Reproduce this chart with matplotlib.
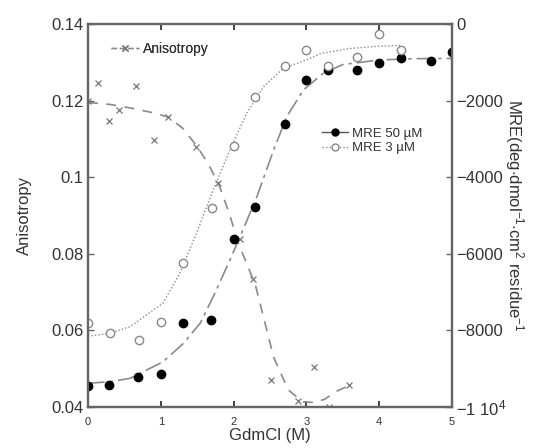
import matplotlib
matplotlib.use("Agg")
from matplotlib import pyplot as plt
from matplotlib.lines import Line2D

plt.rcParams["font.family"] = ["Liberation Sans", "DejaVu Sans"]
plt.rcParams["mathtext.fontset"] = "custom"
plt.rcParams["mathtext.rm"] = "Liberation Sans"
plt.rcParams["mathtext.it"] = "Liberation Sans:italic"
plt.rcParams["mathtext.default"] = "rm"

# Anisotropy data (left axis)
aniso_x = [0, 0.14, 0.29, 0.42, 0.66, 0.90, 1.10, 1.48, 1.79, 2.09, 2.27, 2.51, 2.88, 3.11, 3.31, 3.59]
aniso_y = [0.120, 0.1246, 0.1147, 0.1175, 0.1238, 0.1097, 0.1158, 0.108, 0.0984, 0.0839, 0.0734,
           0.047, 0.0416, 0.0505, 0.040, 0.0457]
aniso_fit_x = [0, 0.3, 0.6, 0.9, 1.1, 1.3, 1.5, 1.65, 1.8, 1.95, 2.05, 2.3, 2.55, 2.75, 2.95, 3.1,
               3.25, 3.4, 3.6]
aniso_fit_y = [0.1195, 0.119, 0.118, 0.1168, 0.1157, 0.1128, 0.108, 0.1035, 0.098, 0.090, 0.0835,
               0.0718, 0.053, 0.0445, 0.0413, 0.0412, 0.042, 0.044, 0.0457]

# MRE 50 uM (right axis)
mre50_x = [0, 0.29, 0.69, 1.0, 1.30, 1.69, 2.0, 2.30, 2.71, 3.0, 3.29, 3.70, 4.0, 4.30, 4.71, 5.0]
mre50_y = [-9450, -9430, -9210, -9150, -7815, -7730, -5620, -4790, -2610, -1460, -1200, -1200,
           -1010, -900, -970, -720]
mre50_fit_x = [0, 0.3, 0.58, 1.03, 1.31, 1.54, 1.72, 1.95, 2.09, 2.32, 2.55, 2.73, 2.96, 3.23,
               3.5, 4.0, 4.5, 5.0]
mre50_fit_y = [-9380, -9340, -9250, -8820, -8340, -7815, -7120, -6160, -5550, -4510, -3290, -2420,
               -1720, -1290, -1060, -940, -905, -900]

# MRE 3 uM (right axis)
mre3_x = [0, 0.3, 0.7, 1.0, 1.3, 1.7, 2.0, 2.3, 2.7, 3.0, 3.3, 3.7, 4.0, 4.3]
mre3_y = [-7800, -8080, -8250, -7790, -6230, -4800, -3190, -1910, -1110, -670, -1110, -860, -250,
          -680]
mre3_fit_x = [0, 0.3, 0.58, 1.03, 1.26, 1.49, 1.72, 1.95, 2.18, 2.41, 2.68, 3.0, 3.2, 3.6, 4.0, 4.3]
mre3_fit_y = [-8150, -8080, -7900, -7290, -6510, -5465, -4330, -3290, -2330, -1640, -1160, -940,
              -770, -640, -580, -560]

x_ticks = [0, 1, 2, 3, 4, 5]
left_ticks = [0.04, 0.06, 0.08, 0.1, 0.12, 0.14]
left_labels = ["0.04", "0.06", "0.08", "0.1", "0.12", "0.14"]
right_ticks = [-10000, -8000, -6000, -4000, -2000, 0]
right_labels = [r"$-$1 10$^4$", "\u22128000", "\u22126000", "\u22124000", "\u22122000", "0"]

TXT = "#333333"
LINE = "#8a8a8a"
SPINE = "#666666"

fig = plt.figure(figsize=(5.38, 4.48), dpi=100)
ax = fig.add_axes([0.1636, 0.0915, 0.6765, 0.855])
ax2 = ax.twinx()

ax.plot(aniso_fit_x, aniso_fit_y, color=LINE, lw=1.2, dashes=(6, 5))
ax.plot(aniso_x, aniso_y, ls="none", marker="x", ms=5, mew=0.9, color="#777777")

ax2.plot(mre50_fit_x, mre50_fit_y, color=LINE, lw=1.2, dashes=(10, 3, 2, 3))
ax2.plot(mre50_x, mre50_y, ls="none", marker="o", ms=6, color="black")
ax2.plot(mre3_fit_x, mre3_fit_y, color=LINE, lw=1.0, ls=(0, (1, 1.5)))
ax2.plot(mre3_x, mre3_y, ls="none", marker="o", ms=6, mfc="white", mec="#888888", mew=1.0)

ax.set_xlim(0, 5)
ax.set_ylim(0.04, 0.14)
ax2.set_ylim(-10000, 0)

ax.set_xticks(x_ticks)
ax.set_xticklabels([str(v) for v in x_ticks], fontsize=8, color=TXT)
ax.set_yticks(left_ticks)
ax.set_yticklabels(left_labels, fontsize=12, color=TXT)
ax2.set_yticks(right_ticks)
ax2.set_yticklabels(right_labels, fontsize=12, color=TXT)

ax.tick_params(axis="x", direction="in", top=True, length=4, width=1.2, color="#222222", pad=7)
ax.tick_params(axis="y", direction="in", length=4, width=1, color=SPINE, pad=3)
ax2.tick_params(axis="y", direction="in", length=4, width=1, color=SPINE, pad=3)

for a in (ax, ax2):
    for s in a.spines.values():
        s.set_color(SPINE)
        s.set_linewidth(1.6)

ax.set_xlabel("GdmCl (M)", fontsize=12, color=TXT, labelpad=1)
ax.set_ylabel("Anisotropy", fontsize=12, color=TXT, labelpad=14)
ax2.set_ylabel(r"MRE(deg$\cdot$dmol$^{-1}$$\cdot$cm$^2$ residue$^{-1}$", fontsize=12, color=TXT,
               rotation=270, labelpad=14)

h_aniso = [Line2D([], [], color=LINE, lw=1.0, dashes=(4, 2), marker="x", ms=5, mec="#777777")]
leg1 = ax.legend(h_aniso, ["Anisotropy"], loc="upper left", bbox_to_anchor=(0.03, 0.985),
                 frameon=False, fontsize=10, handlelength=2.0, handletextpad=0.3, labelcolor=TXT)
ax.add_artist(leg1)

h_mre = [Line2D([], [], color="#555555", lw=1.0, marker="o", ms=5, mfc="black", mec="black"),
         Line2D([], [], color=LINE, lw=1.0, ls=(0, (1, 1.5)), marker="o", ms=5, mfc="white",
                mec="#888888")]
ax2.legend(h_mre, ["MRE 50 \u00b5M", "MRE 3 \u00b5M"], loc="upper left", bbox_to_anchor=(0.61, 0.76),
           frameon=False, fontsize=9.5, handlelength=2.0, handletextpad=0.3, labelspacing=0.15,
           labelcolor=TXT)

fig.savefig("out.png", dpi=100)
